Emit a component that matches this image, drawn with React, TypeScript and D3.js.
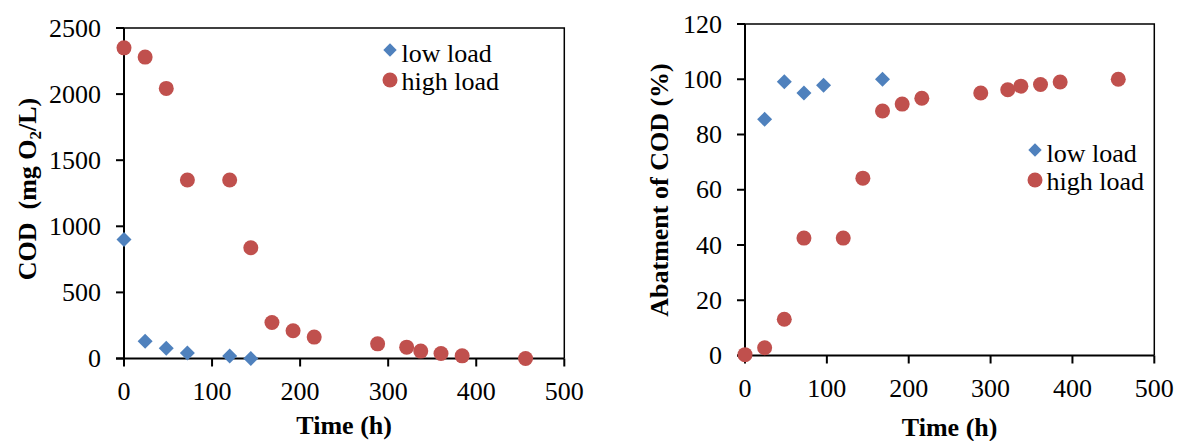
import React from "react";
import * as d3 from "d3";

// ---------- data ----------
const codLowTime = [0, 24, 48, 72, 120, 144];
const codLowValue = [900, 130, 78, 42, 18, 0];
const codHighTime = [0, 24, 48, 72, 120, 144, 168, 192, 216, 288, 321, 337, 360, 384, 456];
const codHighValue = [2350, 2280, 2043, 1350, 1350, 838, 272, 210, 162, 111, 86, 56, 38, 20, 0];

const abLowTime = [24, 48, 72, 96, 168];
const abLowValue = [85.5, 99.1, 95, 97.8, 100];
const abHighTime = [0, 24, 48, 72, 120, 144, 168, 192, 216, 288, 321, 337, 361, 385, 456];
const abHighValue = [0.3, 2.8, 13.1, 42.5, 42.5, 64.2, 88.5, 91, 93.1, 95, 96.2, 97.5, 98.1, 99, 100];

const xTicks = [0, 100, 200, 300, 400, 500];
const codTicks = [0, 500, 1000, 1500, 2000, 2500];
const abTicks = [0, 20, 40, 60, 80, 100, 120];

const seriesNames = ["low load", "high load"];

const BLUE = "#4F81BD";
const RED = "#C0504D";
const FONT = "'Liberation Serif', 'Times New Roman', serif";

type PanelProps = {
  left: number;
  right: number;
  top: number;
  bottom: number;
  yMax: number;
  yTicks: number[];
  low: { x: number[]; y: number[] };
  high: { x: number[]; y: number[] };
  legendX: number;
  legendY: number;
  xTitleY: number;
  yTitleX: number;
  yTitleY: number;
  yTitle: React.ReactNode;
};

function Diamond({ cx, cy, r }: { cx: number; cy: number; r: number }) {
  return (
    <path
      d={`M${cx},${cy - r}L${cx + r},${cy}L${cx},${cy + r}L${cx - r},${cy}Z`}
      fill={BLUE}
    />
  );
}

function Panel(p: PanelProps) {
  const x = d3.scaleLinear().domain([0, 500]).range([p.left, p.right]);
  const y = d3.scaleLinear().domain([0, p.yMax]).range([p.bottom, p.top]);
  return (
    <g fontFamily={FONT}>
      {/* frame */}
      <path
        d={`M${p.left},${p.top}H${p.right}V${p.bottom}`}
        fill="none"
        stroke="#000"
        strokeWidth={1.5}
      />
      {/* axes */}
      <line x1={p.left} x2={p.left} y1={p.top} y2={p.bottom} stroke="#000" strokeWidth={2} />
      <line x1={p.left - 8} x2={p.right} y1={p.bottom} y2={p.bottom} stroke="#000" strokeWidth={2} />
      {p.yTicks.map((t) => (
        <g key={"y" + t}>
          <line x1={p.left - 8} x2={p.left} y1={y(t)} y2={y(t)} stroke="#000" strokeWidth={2} />
          <text x={p.left - 23} y={y(t)} dy="0.33em" textAnchor="end" fontSize={26}>
            {t}
          </text>
        </g>
      ))}
      {xTicks.map((t) => (
        <g key={"x" + t}>
          <line x1={x(t)} x2={x(t)} y1={p.bottom} y2={p.bottom + 8} stroke="#000" strokeWidth={2} />
          <text x={x(t)} y={p.bottom + 41.5} textAnchor="middle" fontSize={26}>
            {t}
          </text>
        </g>
      ))}
      {/* points */}
      {p.high.x.map((v, i) => (
        <circle key={"h" + i} cx={x(v)} cy={y(p.high.y[i])} r={7.5} fill={RED} />
      ))}
      {p.low.x.map((v, i) => (
        <Diamond key={"l" + i} cx={x(v)} cy={y(p.low.y[i])} r={7.5} />
      ))}
      {/* legend */}
      <Diamond cx={p.legendX} cy={p.legendY} r={6.7} />
      <text x={p.legendX + 11.5} y={p.legendY + 11.5} fontSize={26}>
        {seriesNames[0]}
      </text>
      <circle cx={p.legendX} cy={p.legendY + 30} r={7.5} fill={RED} />
      <text x={p.legendX + 11.5} y={p.legendY + 40} fontSize={26}>
        {seriesNames[1]}
      </text>
      {/* titles */}
      <text
        x={(p.left + p.right) / 2}
        y={p.xTitleY}
        textAnchor="middle"
        fontSize={26}
        fontWeight="bold"
      >
        Time (h)
      </text>
      <text
        transform={`translate(${p.yTitleX},${p.yTitleY}) rotate(-90)`}
        textAnchor="middle"
        fontSize={26}
        fontWeight="bold"
      >
        {p.yTitle}
      </text>
    </g>
  );
}

export default function App() {
  return (
    <svg
      width={1178}
      height={441}
      style={{ position: "absolute", left: 0, top: 0, background: "#fff" }}
    >
      <rect width={1178} height={441} fill="#fff" />
      <Panel
        left={124}
        right={564.3}
        top={28}
        bottom={358.5}
        yMax={2500}
        yTicks={codTicks}
        low={{ x: codLowTime, y: codLowValue }}
        high={{ x: codHighTime, y: codHighValue }}
        legendX={390}
        legendY={50}
        xTitleY={433.5}
        yTitleX={36}
        yTitleY={189}
        yTitle={
          <>
            <tspan>{"COD\u00A0\u00A0(mg O"}</tspan>
            <tspan fontSize={17} dy={5}>2</tspan>
            <tspan dy={-5}>/L)</tspan>
          </>
        }
      />
      <Panel
        left={745}
        right={1154.3}
        top={24}
        bottom={355.5}
        yMax={120}
        yTicks={abTicks}
        low={{ x: abLowTime, y: abLowValue }}
        high={{ x: abHighTime, y: abHighValue }}
        legendX={1035}
        legendY={150}
        xTitleY={436}
        yTitleX={668}
        yTitleY={190}
        yTitle={<tspan>Abatment of COD (%)</tspan>}
      />
    </svg>
  );
}
